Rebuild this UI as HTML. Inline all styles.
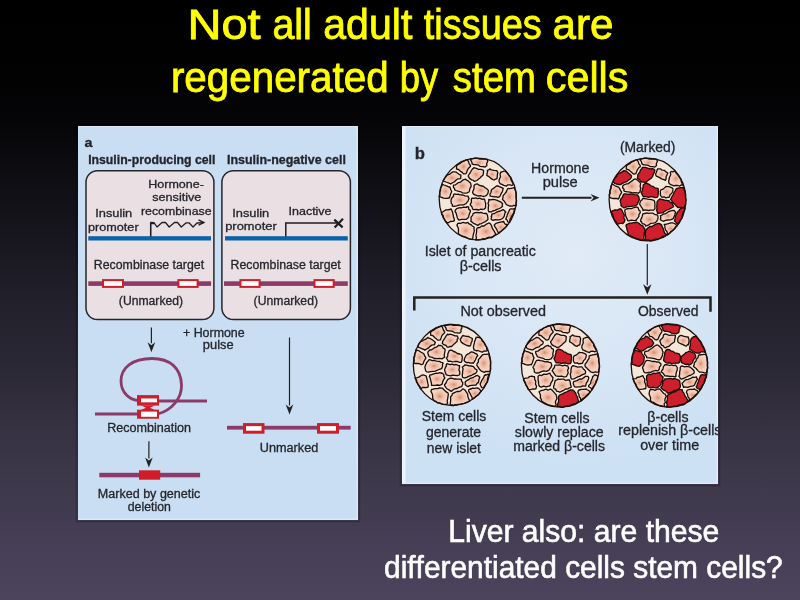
<!DOCTYPE html>
<html><head><meta charset="utf-8"><style>
html,body{margin:0;padding:0;}
body{width:800px;height:600px;overflow:hidden;position:relative;
background:linear-gradient(180deg,#000 0px,#020203 80px,#050507 120px,#0f0e13 180px,#18161e 240px,#22202b 300px,#2a2734 360px,#363242 430px,#403a4e 500px,#494159 570px,#4c445d 600px);
font-family:"Liberation Sans",sans-serif;}
svg{position:absolute;left:0;top:0;will-change:transform;}
svg text{font-family:"Liberation Sans",sans-serif;font-kerning:none;}
.pt text{stroke:#25262d;stroke-width:0.3px;}
</style></head><body>
<svg width="800" height="600" viewBox="0 0 800 600">
<defs>
<radialGradient id="pbg" gradientUnits="userSpaceOnUse" cx="575" cy="255" r="210">
<stop offset="0" stop-color="#e0ebf6"/><stop offset="0.55" stop-color="#d8e6f5"/><stop offset="1" stop-color="#cde1f4"/></radialGradient>
<radialGradient id="cellg" cx="0.5" cy="0.5" r="0.6">
<stop offset="0" stop-color="#d48e6c"/><stop offset="0.25" stop-color="#ebb69f"/><stop offset="0.55" stop-color="#f5cdbc"/><stop offset="1" stop-color="#f8d8ca"/></radialGradient>
</defs>
<clipPath id="cpb"><rect x="402" y="126" width="316" height="358"/></clipPath>
<g font-family="Liberation Sans">
<text x="187.44" y="39.00" font-size="42" textLength="73.20" lengthAdjust="spacingAndGlyphs" stroke="#ffff00" stroke-width="0.8" fill="#ffff00">Not</text>
<text x="272.43" y="39.00" font-size="42" textLength="39.41" lengthAdjust="spacingAndGlyphs" stroke="#ffff00" stroke-width="0.8" fill="#ffff00">all</text>
<text x="323.26" y="39.00" font-size="42" textLength="89.05" lengthAdjust="spacingAndGlyphs" stroke="#ffff00" stroke-width="0.8" fill="#ffff00">adult</text>
<text x="423.83" y="39.00" font-size="42" textLength="117.94" lengthAdjust="spacingAndGlyphs" stroke="#ffff00" stroke-width="0.8" fill="#ffff00">tissues</text>
<text x="552.61" y="39.00" font-size="42" textLength="60.86" lengthAdjust="spacingAndGlyphs" stroke="#ffff00" stroke-width="0.8" fill="#ffff00">are</text>
<text x="170.92" y="92.00" font-size="42" textLength="217.68" lengthAdjust="spacingAndGlyphs" stroke="#ffff00" stroke-width="0.8" fill="#ffff00">regenerated</text>
<text x="399.66" y="92.00" font-size="42" textLength="38.42" lengthAdjust="spacingAndGlyphs" stroke="#ffff00" stroke-width="0.8" fill="#ffff00">by</text>
<text x="452.83" y="92.00" font-size="42" textLength="83.09" lengthAdjust="spacingAndGlyphs" stroke="#ffff00" stroke-width="0.8" fill="#ffff00">stem</text>
<text x="545.74" y="92.00" font-size="42" textLength="82.75" lengthAdjust="spacingAndGlyphs" stroke="#ffff00" stroke-width="0.8" fill="#ffff00">cells</text>
<text x="448.23" y="542.00" font-size="30.5" textLength="271.11" lengthAdjust="spacingAndGlyphs" stroke="#ffffff" stroke-width="0.6" fill="#ffffff">Liver also: are these</text>
<text x="384.05" y="578.00" font-size="30.5" textLength="398.66" lengthAdjust="spacingAndGlyphs" stroke="#ffffff" stroke-width="0.6" fill="#ffffff">differentiated cells stem cells?</text>
</g>
<g class="pt" fill="#25262d" stroke-linecap="butt">
<rect x="76.5" y="124.5" width="283" height="397" fill="none" stroke="#000" stroke-opacity="0.22" stroke-width="1.5"/>
<rect x="400.5" y="124.5" width="319" height="361" fill="none" stroke="#000" stroke-opacity="0.22" stroke-width="1.5"/>
<rect x="78" y="126" width="280" height="394" fill="#c9def2"/>
<rect x="356.5" y="126" width="1.5" height="394" fill="#dce8f6"/>
<rect x="78" y="518.5" width="280" height="1.5" fill="#dce8f6"/>
<rect x="78" y="126" width="280" height="1" fill="#dae8f6"/>
<text x="84.48" y="146.60" font-size="12.5" textLength="7.93" lengthAdjust="spacingAndGlyphs" font-weight="700">a</text>
<text x="88.18" y="163.60" font-size="12" textLength="127.19" lengthAdjust="spacingAndGlyphs" font-weight="700">Insulin-producing cell</text>
<text x="226.97" y="163.70" font-size="12" textLength="118.91" lengthAdjust="spacingAndGlyphs" font-weight="700">Insulin-negative cell</text>
<rect x="86" y="170.7" width="127.9" height="148.9" rx="11.5" ry="11.5" fill="#eadfe3" stroke="#26262a" stroke-width="1.5"/>
<rect x="221.9" y="170.7" width="128.49999999999997" height="148.9" rx="11.5" ry="11.5" fill="#eadfe3" stroke="#26262a" stroke-width="1.5"/>
<text x="148.27" y="188.10" font-size="11" textLength="55.58" lengthAdjust="spacingAndGlyphs">Hormone-</text>
<text x="152.25" y="201.30" font-size="11" textLength="49.11" lengthAdjust="spacingAndGlyphs">sensitive</text>
<text x="140.93" y="214.75" font-size="11" textLength="70.62" lengthAdjust="spacingAndGlyphs">recombinase</text>
<text x="95.22" y="217.20" font-size="11" textLength="37.01" lengthAdjust="spacingAndGlyphs">Insulin</text>
<text x="88.09" y="230.60" font-size="11" textLength="50.52" lengthAdjust="spacingAndGlyphs">promoter</text>
<text x="232.22" y="217.20" font-size="11" textLength="37.01" lengthAdjust="spacingAndGlyphs">Insulin</text>
<text x="225.17" y="230.30" font-size="11" textLength="51.65" lengthAdjust="spacingAndGlyphs">promoter</text>
<text x="288.55" y="215.30" font-size="11" textLength="43.01" lengthAdjust="spacingAndGlyphs">Inactive</text>
<rect x="88.3" y="236.2" width="122.7" height="4.3" fill="#0863aa"/>
<rect x="225" y="236.2" width="122.8" height="4.3" fill="#0863aa"/>
<path d="M150.6,236.5 V223.5 H154" fill="none" stroke="#222" stroke-width="1.3"/>
<path d="M150.7,236.4 V222.4 L154,222.6 L157,227 L162,222.5 L165.5,222.5 L169.2,227 L174.5,222.5 L177.5,222.5 L181.3,227 L186.2,222.8 L189,222.8 L193,227 L197,223 L203.5,222.6" fill="none" stroke="#1e1e22" stroke-width="1.3" stroke-linejoin="round"/>
<path d="M198.5,219.8 L204,222.6 L198.5,225.2" fill="none" stroke="#1e1e22" stroke-width="1.3"/>
<path d="M285.8,236.5 V222.9 H338" fill="none" stroke="#1e1e22" stroke-width="1.5"/>
<path d="M334.3,219.6 L342.6,227.4 M343,218.8 L334.6,227.4" stroke="#1e1e22" stroke-width="2.2"/>
<text x="93.89" y="269.00" font-size="12" textLength="110.20" lengthAdjust="spacingAndGlyphs">Recombinase target</text>
<text x="230.59" y="269.00" font-size="12" textLength="110.20" lengthAdjust="spacingAndGlyphs">Recombinase target</text>
<rect x="88.3" y="281.3" width="122.8" height="4.6" fill="#8c3a6a"/>
<rect x="224" y="281.3" width="123.80000000000001" height="4.6" fill="#8c3a6a"/>
<rect x="103.0" y="280.1" width="20" height="6.800000000000001" fill="#fff" stroke="#cf1d2a" stroke-width="2"/>
<rect x="178.4" y="280.1" width="19.19999999999999" height="6.800000000000001" fill="#fff" stroke="#cf1d2a" stroke-width="2"/>
<rect x="240.4" y="280.1" width="19.200000000000017" height="6.800000000000001" fill="#fff" stroke="#cf1d2a" stroke-width="2"/>
<rect x="314.5" y="280.1" width="19.19999999999999" height="6.800000000000001" fill="#fff" stroke="#cf1d2a" stroke-width="2"/>
<text x="118.84" y="304.70" font-size="12" textLength="64.31" lengthAdjust="spacingAndGlyphs">(Unmarked)</text>
<text x="253.64" y="304.70" font-size="12" textLength="64.36" lengthAdjust="spacingAndGlyphs">(Unmarked)</text>
<text x="182.99" y="336.50" font-size="12" textLength="61.66" lengthAdjust="spacingAndGlyphs">+ Hormone</text>
<text x="202.87" y="349.00" font-size="12" textLength="30.70" lengthAdjust="spacingAndGlyphs">pulse</text>
<line x1="151.4" y1="327.5" x2="151.4" y2="343.3" stroke="#222" stroke-width="1.2"/><path d="M147.6,342.3 L151.4,352.3 L155.20000000000002,342.3 L151.4,345.3Z" fill="#222"/>
<line x1="289.5" y1="337.5" x2="289.5" y2="405.5" stroke="#222" stroke-width="1.2"/><path d="M285.7,404.5 L289.5,414.5 L293.3,404.5 L289.5,407.5Z" fill="#222"/>
<line x1="148.9" y1="441.2" x2="148.9" y2="458.5" stroke="#222" stroke-width="1.2"/><path d="M145.1,457.5 L148.9,467.5 L152.70000000000002,457.5 L148.9,460.5Z" fill="#222"/>
<path d="M159,401 H207" stroke="#8c3a6a" stroke-width="2.8" fill="none"/>
<path d="M95,414 H138" stroke="#8c3a6a" stroke-width="3" fill="none"/>
<path d="M158,414 C172,410 182,398 181.5,385 C181,368 170,358.5 152,358.5 C132,358.5 121,368 121,381 C121,393 130,400 138,400.5" stroke="#8c3a6a" stroke-width="2.8" fill="none"/>
<rect x="137" y="395.1" width="22" height="10.5" fill="#cf1d2a"/>
<rect x="137" y="409.7" width="22" height="9" fill="#cf1d2a"/>
<path d="M141,405.5 L155,405.5 L150,407.7 L155,409.9 L141,409.9 L146,407.7Z" fill="#cf1d2a"/>
<rect x="141" y="398.5" width="16" height="3.8" fill="#fff"/>
<rect x="141" y="411.6" width="16" height="5.2" fill="#fff"/>
<text x="107.22" y="432.40" font-size="12" textLength="83.80" lengthAdjust="spacingAndGlyphs">Recombination</text>
<rect x="99.3" y="472.8" width="100.8" height="4.5" fill="#8c3a6a"/>
<rect x="139" y="470.3" width="21.2" height="9.4" fill="#cf1d2a"/>
<text x="97.87" y="498.00" font-size="12" textLength="102.46" lengthAdjust="spacingAndGlyphs">Marked by genetic</text>
<text x="127.78" y="510.60" font-size="12" textLength="43.12" lengthAdjust="spacingAndGlyphs">deletion</text>
<rect x="227" y="425.8" width="123.7" height="3.8" fill="#8c3a6a"/>
<rect x="244.5" y="424.59999999999997" width="18.5" height="7.6" fill="#fff" stroke="#cf1d2a" stroke-width="3"/>
<rect x="318.5" y="424.59999999999997" width="19" height="7.6" fill="#fff" stroke="#cf1d2a" stroke-width="3"/>
<text x="259.77" y="451.75" font-size="12" textLength="58.55" lengthAdjust="spacingAndGlyphs">Unmarked</text>
</g>
<g class="pt" fill="#25262d" stroke-linecap="butt" clip-path="url(#cpb)">
<rect x="402" y="126" width="316" height="358" fill="url(#pbg)"/>
<rect x="402" y="126" width="3.5" height="358" fill="#eef3fa"/>
<rect x="716.5" y="126" width="1.5" height="358" fill="#e4edf8"/>
<rect x="402" y="482.5" width="316" height="1.5" fill="#e0e9f6"/>
<rect x="402" y="126" width="316" height="1" fill="#e2ecf8"/>
<text x="414.80" y="158.70" font-size="16.5" textLength="10.18" lengthAdjust="spacingAndGlyphs" font-weight="700">b</text>
<text x="619.89" y="152.25" font-size="14" textLength="55.57" lengthAdjust="spacingAndGlyphs">(Marked)</text>
<text x="531.14" y="173.25" font-size="14" textLength="58.24" lengthAdjust="spacingAndGlyphs">Hormone</text>
<text x="542.66" y="187.20" font-size="14" textLength="34.99" lengthAdjust="spacingAndGlyphs">pulse</text>
<line x1="521.8" y1="197.8" x2="591.5" y2="197.8" stroke="#222" stroke-width="1.9"/><path d="M590.5,194.0 L599.5,197.8 L590.5,201.60000000000002 L593.5,197.8Z" fill="#222"/>
<text x="424.69" y="256.00" font-size="14" textLength="111.18" lengthAdjust="spacingAndGlyphs">Islet of pancreatic</text>
<text x="459.81" y="270.70" font-size="14" textLength="41.71" lengthAdjust="spacingAndGlyphs">β-cells</text>
<line x1="647.3" y1="244" x2="647.3" y2="285.3" stroke="#222" stroke-width="1.2"/><path d="M643.0999999999999,284.3 L647.3,294.8 L651.5,284.3 L647.3,287.3Z" fill="#222"/>
<path d="M414.3,310.5 V297.6 H710.5 V311.7" fill="none" stroke="#222" stroke-width="2.5"/>
<text x="460.42" y="316.00" font-size="14" textLength="85.51" lengthAdjust="spacingAndGlyphs">Not observed</text>
<text x="638.04" y="315.75" font-size="14" textLength="60.36" lengthAdjust="spacingAndGlyphs">Observed</text>
<text x="421.66" y="421.20" font-size="13.8" textLength="64.59" lengthAdjust="spacingAndGlyphs">Stem cells</text>
<text x="425.91" y="437.25" font-size="13.8" textLength="55.21" lengthAdjust="spacingAndGlyphs">generate</text>
<text x="426.78" y="453.00" font-size="13.8" textLength="54.13" lengthAdjust="spacingAndGlyphs">new islet</text>
<text x="524.36" y="422.70" font-size="13.8" textLength="65.15" lengthAdjust="spacingAndGlyphs">Stem cells</text>
<text x="514.86" y="437.25" font-size="13.8" textLength="88.77" lengthAdjust="spacingAndGlyphs">slowly replace</text>
<text x="513.27" y="450.75" font-size="13.8" textLength="91.74" lengthAdjust="spacingAndGlyphs">marked β-cells</text>
<text x="647.27" y="421.80" font-size="13.8" textLength="41.25" lengthAdjust="spacingAndGlyphs">β-cells</text>
<text x="618.35" y="435.00" font-size="13.8" textLength="103.16" lengthAdjust="spacingAndGlyphs">replenish β-cells</text>
<text x="640.15" y="450.00" font-size="13.8" textLength="58.99" lengthAdjust="spacingAndGlyphs">over time</text>
<ellipse cx="477.8" cy="199" rx="38.6" ry="40.8" fill="#f3e7da"/>
<path d="M485.1,167.0 L486.7,165.8 L486.9,165.5 L486.6,163.7 L487.7,161.5 L487.3,159.5 L485.2,159.2 L483.4,158.9 L481.8,159.0 L479.2,159.0 L476.5,158.1 L474.8,158.0 L471.9,158.9 L470.3,159.7 L471.2,160.9 L471.9,162.2 L472.1,163.8 L473.9,164.6 L475.8,164.7 L478.6,165.2 L480.2,166.4 L482.7,166.6Z" fill="url(#cellg)" stroke="#1a0c07" stroke-width="1.3" stroke-linejoin="round"/>
<path d="M463.5,173.8 L464.2,173.9 L466.1,173.6 L466.9,171.7 L467.5,169.8 L468.8,167.9 L470.4,166.6 L470.5,165.5 L469.2,163.8 L468.4,161.3 L467.3,159.6 L465.2,160.2 L463.9,161.2 L461.6,162.1 L460.1,163.5 L457.5,164.8 L456.7,165.9 L456.5,167.1 L456.5,169.0 L458.5,169.4 L460.5,171.2 L461.8,172.1Z" fill="url(#cellg)" stroke="#1a0c07" stroke-width="1.3" stroke-linejoin="round"/>
<path d="M449.6,183.3 L450.7,184.0 L452.9,182.5 L454.5,181.8 L455.9,180.3 L457.7,178.9 L460.6,178.6 L460.8,177.0 L460.9,175.1 L459.1,174.3 L457.2,172.9 L456.2,172.1 L454.2,171.8 L453.0,171.9 L452.2,172.2 L449.9,174.1 L447.5,174.9 L446.6,175.8 L445.6,177.2 L444.0,179.1 L443.0,180.8 L446.0,182.0 L447.4,182.5Z" fill="url(#cellg)" stroke="#1a0c07" stroke-width="1.3" stroke-linejoin="round"/>
<path d="M476.9,180.5 L478.6,179.1 L479.7,178.2 L481.6,176.3 L482.9,175.2 L483.4,173.6 L483.5,171.3 L483.8,170.9 L482.6,169.8 L481.0,169.4 L478.7,169.4 L476.2,168.4 L473.9,167.7 L472.9,168.8 L472.7,168.6 L471.1,171.0 L469.9,173.2 L468.3,175.5 L468.2,176.3 L468.8,177.0 L469.5,178.4 L471.7,179.9 L473.0,180.1 L474.5,181.4Z" fill="url(#cellg)" stroke="#1a0c07" stroke-width="1.3" stroke-linejoin="round"/>
<path d="M487.0,173.7 L487.1,174.4 L486.8,175.4 L489.1,176.8 L491.0,178.4 L492.8,179.6 L494.2,180.0 L495.0,179.3 L497.0,178.6 L497.2,176.9 L497.4,174.5 L497.8,172.5 L497.8,172.6 L496.8,170.6 L493.9,170.3 L491.3,169.9 L489.8,168.9 L488.8,169.8 L487.3,170.4 L487.6,171.5Z" fill="url(#cellg)" stroke="#1a0c07" stroke-width="1.3" stroke-linejoin="round"/>
<path d="M499.0,181.4 L499.2,182.0 L500.1,183.6 L502.4,184.6 L503.8,185.3 L506.5,186.2 L507.6,184.9 L510.1,184.9 L511.9,185.5 L513.6,184.3 L512.8,183.1 L511.6,181.0 L510.8,179.5 L510.8,177.4 L509.2,176.0 L507.9,174.0 L506.7,172.6 L505.1,171.2 L504.0,171.1 L501.8,172.0 L500.7,172.2 L500.1,174.3 L500.5,176.7 L499.2,179.5Z" fill="url(#cellg)" stroke="#1a0c07" stroke-width="1.3" stroke-linejoin="round"/>
<path d="M449.9,187.0 L448.8,187.0 L446.5,185.9 L443.9,185.0 L442.5,184.2 L441.8,185.9 L440.4,188.3 L440.6,190.1 L439.7,192.5 L440.0,195.1 L439.0,196.3 L441.7,197.3 L443.5,198.2 L445.6,198.4 L447.3,198.3 L448.0,198.0 L449.1,198.2 L450.1,195.9 L450.6,194.1 L451.2,192.7 L451.7,191.3 L450.8,189.7Z" fill="url(#cellg)" stroke="#1a0c07" stroke-width="1.3" stroke-linejoin="round"/>
<path d="M466.1,179.9 L465.8,179.1 L463.8,179.7 L462.7,180.2 L460.4,182.2 L458.5,182.6 L455.5,184.8 L453.5,185.1 L453.4,186.3 L453.5,187.1 L454.4,188.6 L454.9,189.9 L455.8,190.5 L458.0,191.2 L460.8,191.8 L462.3,192.8 L465.6,193.1 L467.1,192.8 L468.9,192.0 L469.4,191.2 L469.9,188.4 L471.2,186.3 L470.8,184.1 L470.3,182.8 L468.9,181.7 L467.9,180.6Z" fill="url(#cellg)" stroke="#1a0c07" stroke-width="1.3" stroke-linejoin="round"/>
<path d="M472.6,192.9 L473.5,193.6 L473.8,194.4 L477.0,195.7 L478.4,196.0 L480.6,195.7 L483.2,196.5 L484.9,196.1 L486.6,195.4 L486.8,195.0 L488.0,193.1 L488.4,190.8 L487.9,189.9 L487.1,189.1 L484.8,187.4 L483.6,186.4 L482.0,186.0 L479.5,185.4 L477.5,183.9 L476.1,184.2 L475.1,184.5 L474.0,185.5 L474.1,187.1 L474.0,188.7 L473.0,190.9Z" fill="url(#cellg)" stroke="#1a0c07" stroke-width="1.3" stroke-linejoin="round"/>
<path d="M492.3,189.1 L491.4,190.0 L490.9,192.5 L489.9,194.3 L490.2,196.2 L492.0,196.4 L494.3,196.9 L496.2,196.6 L498.0,197.5 L499.6,196.6 L499.8,196.6 L501.0,193.9 L502.1,192.1 L502.6,190.9 L502.9,189.3 L503.3,188.6 L502.3,187.9 L500.6,187.2 L499.4,186.7 L497.6,185.8 L496.5,186.0 L495.2,187.0 L493.3,188.5Z" fill="url(#cellg)" stroke="#1a0c07" stroke-width="1.3" stroke-linejoin="round"/>
<path d="M508.1,188.5 L507.2,189.4 L506.2,192.0 L504.7,193.9 L503.1,195.6 L503.0,197.8 L502.4,199.0 L502.8,199.8 L503.8,200.7 L504.9,202.2 L506.3,204.5 L507.5,205.2 L509.6,206.0 L512.3,206.2 L513.6,205.4 L516.2,205.6 L516.1,202.8 L516.6,200.8 L516.1,198.3 L516.0,196.7 L516.2,194.0 L515.9,191.7 L515.0,189.7 L514.3,187.3 L512.7,188.2 L509.7,188.6Z" fill="url(#cellg)" stroke="#1a0c07" stroke-width="1.3" stroke-linejoin="round"/>
<path d="M452.4,204.7 L452.3,206.0 L454.0,206.3 L456.6,205.8 L458.9,205.1 L461.6,204.8 L463.6,204.8 L466.2,203.5 L467.1,202.2 L468.0,201.1 L469.0,198.4 L468.2,196.9 L468.3,196.3 L467.5,196.1 L465.0,195.9 L462.9,195.0 L460.1,194.8 L458.2,194.1 L456.0,194.3 L454.4,193.9 L453.5,194.8 L453.5,196.3 L451.6,198.2 L451.1,199.7 L451.0,201.0 L451.3,203.4Z" fill="url(#cellg)" stroke="#1a0c07" stroke-width="1.3" stroke-linejoin="round"/>
<path d="M485.0,201.4 L484.9,200.0 L484.1,198.8 L482.2,199.4 L479.8,198.2 L477.7,198.6 L475.7,197.9 L473.8,198.4 L472.0,198.1 L471.3,199.6 L471.5,202.1 L470.3,204.1 L470.4,205.0 L472.0,206.9 L472.5,208.7 L473.2,209.7 L476.4,209.5 L479.0,210.0 L480.8,209.2 L482.9,209.5 L484.2,209.1 L485.5,208.0 L485.6,206.2 L485.7,203.5Z" fill="url(#cellg)" stroke="#1a0c07" stroke-width="1.3" stroke-linejoin="round"/>
<path d="M490.1,199.8 L488.8,199.5 L488.8,201.5 L488.0,203.1 L488.7,205.3 L488.3,207.2 L488.3,209.4 L488.2,210.3 L489.0,212.0 L489.4,211.7 L491.3,211.9 L492.8,211.0 L495.1,210.4 L497.0,209.4 L499.4,208.5 L501.2,207.5 L502.6,206.3 L502.1,205.9 L502.6,203.8 L501.1,202.2 L499.3,201.3 L497.2,200.3 L494.8,199.6 L492.6,199.5Z" fill="url(#cellg)" stroke="#1a0c07" stroke-width="1.3" stroke-linejoin="round"/>
<path d="M451.6,209.9 L451.0,208.9 L449.9,209.5 L447.3,209.9 L445.5,210.0 L443.0,211.8 L441.4,212.5 L441.7,214.0 L443.4,216.2 L443.1,217.6 L444.4,219.5 L445.0,220.6 L446.9,222.5 L448.4,222.8 L450.2,221.5 L452.3,221.4 L452.8,221.4 L454.4,220.7 L454.2,218.9 L453.6,217.3 L453.2,215.2 L452.6,212.3Z" fill="url(#cellg)" stroke="#1a0c07" stroke-width="1.3" stroke-linejoin="round"/>
<path d="M466.3,219.3 L466.6,219.1 L468.1,217.8 L468.7,216.4 L469.5,213.6 L470.3,211.8 L470.4,210.4 L468.7,209.3 L468.6,207.0 L466.9,206.6 L466.6,207.4 L463.4,207.2 L461.3,207.8 L459.8,207.7 L456.7,208.6 L455.9,209.6 L455.4,209.6 L455.1,211.7 L456.1,213.0 L456.8,215.7 L457.3,217.7 L458.0,219.0 L459.0,220.2 L461.5,219.4 L463.4,219.3Z" fill="url(#cellg)" stroke="#1a0c07" stroke-width="1.3" stroke-linejoin="round"/>
<path d="M486.5,220.5 L487.4,220.1 L488.0,219.4 L487.7,216.8 L487.6,215.8 L487.1,214.6 L486.6,213.5 L485.5,213.5 L482.8,213.2 L480.8,212.4 L479.0,212.9 L477.5,212.3 L475.3,212.6 L473.5,213.4 L473.2,213.3 L472.7,215.1 L470.9,217.3 L471.1,218.8 L471.2,220.3 L470.7,221.2 L472.5,222.4 L474.2,223.7 L475.9,224.3 L476.7,224.9 L477.8,225.4 L480.0,223.8 L481.2,223.8 L483.8,222.3 L485.7,221.5Z" fill="url(#cellg)" stroke="#1a0c07" stroke-width="1.3" stroke-linejoin="round"/>
<path d="M491.1,219.1 L491.9,219.8 L493.2,220.4 L495.1,219.6 L498.1,219.8 L500.2,219.7 L502.0,218.7 L503.0,217.9 L504.3,216.2 L504.5,214.8 L505.1,212.4 L505.9,212.1 L505.1,211.2 L503.7,209.9 L502.9,209.6 L500.4,211.0 L498.6,211.4 L496.6,212.2 L494.8,213.3 L491.8,214.2 L491.9,215.0 L491.1,216.7 L491.7,216.9Z" fill="url(#cellg)" stroke="#1a0c07" stroke-width="1.3" stroke-linejoin="round"/>
<path d="M511.6,208.9 L511.0,208.9 L509.8,209.3 L508.5,212.2 L507.6,213.9 L507.0,215.9 L505.7,219.2 L506.2,219.1 L507.0,219.9 L507.7,221.9 L509.7,222.5 L509.9,219.9 L511.0,217.6 L512.2,215.3 L513.7,212.9 L513.9,211.5 L514.9,208.4 L512.9,209.1Z" fill="url(#cellg)" stroke="#1a0c07" stroke-width="1.3" stroke-linejoin="round"/>
<path d="M459.2,223.1 L457.9,223.3 L456.9,225.4 L458.3,228.0 L458.5,230.0 L458.3,232.8 L458.9,234.2 L461.9,236.0 L464.2,236.6 L465.7,237.1 L468.7,238.8 L470.2,239.2 L472.6,239.0 L473.0,236.6 L473.2,234.7 L473.8,232.9 L474.3,231.3 L474.0,228.5 L474.2,227.3 L471.7,225.5 L471.3,224.9 L468.7,223.6 L467.8,222.3 L466.1,223.1 L462.9,222.3 L461.1,223.3Z" fill="url(#cellg)" stroke="#1a0c07" stroke-width="1.3" stroke-linejoin="round"/>
<path d="M491.1,224.8 L490.0,223.3 L488.8,223.0 L486.5,224.1 L484.1,226.0 L482.1,225.8 L479.8,227.5 L477.2,227.9 L476.5,229.5 L476.7,231.5 L476.3,233.7 L475.9,236.0 L476.5,237.5 L475.7,240.0 L477.2,239.9 L478.9,239.8 L480.7,239.6 L483.1,238.7 L484.6,239.0 L485.8,238.5 L487.0,237.9 L489.3,237.2 L490.9,237.8 L493.0,236.9 L494.4,235.3 L496.3,234.5 L495.2,233.3 L494.0,230.8 L492.5,228.7 L491.7,226.2Z" fill="url(#cellg)" stroke="#1a0c07" stroke-width="1.3" stroke-linejoin="round"/>
<path d="M496.0,223.4 L495.6,223.6 L494.2,225.2 L495.2,227.1 L496.7,229.3 L497.4,231.0 L498.5,233.1 L499.8,232.0 L502.0,230.5 L503.4,229.3 L505.0,227.9 L506.0,226.9 L507.6,224.4 L505.4,224.3 L503.7,222.2 L503.8,221.5 L500.6,222.1 L498.2,222.7Z" fill="url(#cellg)" stroke="#1a0c07" stroke-width="1.3" stroke-linejoin="round"/>
<ellipse cx="477.8" cy="199" rx="38.6" ry="40.8" fill="none" stroke="#1e0f0a" stroke-width="1.3"/>
<ellipse cx="647.5" cy="199.5" rx="38.4" ry="41.3" fill="#f3e7da"/>
<path d="M654.8,167.1 L656.3,165.8 L656.5,165.6 L656.3,163.7 L657.4,161.5 L656.9,159.5 L654.8,159.2 L653.1,158.9 L651.5,159.0 L648.9,159.0 L646.2,158.1 L644.5,158.0 L641.6,158.9 L639.9,159.7 L641.0,160.9 L641.6,162.3 L641.9,163.9 L643.7,164.8 L645.5,164.8 L648.3,165.3 L649.9,166.5 L652.4,166.7Z" fill="url(#cellg)" stroke="#1a0c07" stroke-width="1.3" stroke-linejoin="round"/>
<path d="M633.2,173.9 L634.0,174.0 L635.8,173.7 L636.6,171.8 L637.3,169.9 L638.6,168.0 L640.2,166.7 L640.3,165.7 L638.9,163.9 L638.1,161.4 L636.9,159.7 L634.9,160.3 L633.7,161.2 L631.4,162.1 L629.9,163.6 L627.3,164.9 L626.5,166.0 L626.3,167.3 L626.3,169.2 L628.4,169.6 L630.3,171.3 L631.5,172.2Z" fill="url(#cellg)" stroke="#1a0c07" stroke-width="1.3" stroke-linejoin="round"/>
<path d="M630.3,179.0 L631.2,177.7 L631.6,175.9 L630.8,175.1 L628.9,173.4 L627.2,171.9 L626.8,171.2 L624.0,170.6 L622.4,171.6 L619.9,173.2 L617.4,174.1 L616.7,176.5 L614.7,178.4 L613.4,180.4 L613.3,181.8 L614.8,183.5 L616.4,184.0 L619.3,184.7 L620.8,184.5 L622.1,183.6 L624.1,182.5 L627.0,181.6 L628.3,180.2Z" fill="#d01f2c" stroke="#1a0c07" stroke-width="1.3" stroke-linejoin="round"/>
<path d="M637.8,174.9 L637.6,176.7 L637.6,178.6 L639.3,179.4 L640.4,180.9 L641.8,182.1 L643.3,182.1 L646.2,182.3 L647.6,180.7 L649.9,179.1 L651.5,178.0 L652.9,175.8 L653.5,173.6 L654.2,172.9 L654.9,170.2 L653.7,169.1 L652.4,168.7 L649.7,168.8 L647.6,168.1 L645.4,167.4 L642.4,167.4 L641.6,169.0 L640.6,169.7 L639.8,172.1 L638.8,173.4Z" fill="#d01f2c" stroke="#1a0c07" stroke-width="1.3" stroke-linejoin="round"/>
<path d="M660.3,168.8 L657.7,168.9 L657.1,170.1 L656.4,172.3 L655.6,174.1 L656.0,175.7 L656.6,176.1 L659.7,177.6 L661.5,178.9 L663.2,179.5 L664.0,179.5 L665.4,180.4 L666.1,178.8 L666.0,178.2 L666.3,176.2 L667.7,173.4 L667.6,172.7 L665.6,171.6 L664.4,170.3 L661.9,170.1Z" fill="url(#cellg)" stroke="#1a0c07" stroke-width="1.3" stroke-linejoin="round"/>
<path d="M668.6,181.1 L668.9,183.0 L669.9,184.1 L671.4,184.8 L674.1,185.8 L675.3,185.5 L677.8,185.5 L679.6,186.1 L681.2,185.0 L683.2,185.2 L681.9,183.1 L681.2,181.6 L681.2,179.5 L679.8,177.8 L678.5,175.8 L677.6,174.4 L676.0,173.1 L675.2,170.9 L673.0,171.8 L671.5,171.4 L670.3,172.3 L670.7,174.7 L669.4,177.6 L669.2,179.0Z" fill="url(#cellg)" stroke="#1a0c07" stroke-width="1.3" stroke-linejoin="round"/>
<path d="M619.4,188.1 L618.5,187.1 L615.9,186.2 L614.6,185.5 L612.3,184.0 L610.9,186.4 L611.1,188.2 L609.9,190.9 L610.2,193.4 L609.2,194.7 L609.7,197.3 L611.5,198.2 L613.6,198.5 L615.3,198.3 L617.0,198.5 L618.2,199.1 L618.9,198.2 L619.5,196.4 L620.0,195.1 L621.6,192.7 L621.5,192.1 L620.4,190.2Z" fill="url(#cellg)" stroke="#1a0c07" stroke-width="1.3" stroke-linejoin="round"/>
<path d="M637.9,193.2 L638.3,193.3 L640.1,191.6 L640.2,190.5 L640.8,187.7 L640.1,186.9 L640.5,184.0 L640.4,182.9 L639.1,181.5 L637.9,180.5 L636.2,179.2 L634.8,179.0 L633.6,179.6 L632.1,180.9 L629.4,182.7 L628.4,183.7 L625.7,184.2 L623.7,185.0 L622.6,186.4 L622.6,187.7 L624.1,189.3 L623.8,190.7 L624.8,191.4 L627.3,191.8 L630.2,192.2 L632.3,192.9 L635.4,192.6Z" fill="url(#cellg)" stroke="#1a0c07" stroke-width="1.3" stroke-linejoin="round"/>
<path d="M641.1,192.5 L642.6,195.4 L643.3,196.8 L645.6,196.5 L648.3,197.3 L650.0,196.9 L653.0,196.9 L654.9,197.6 L657.1,197.4 L658.0,196.2 L658.1,194.5 L658.4,192.5 L658.2,190.1 L658.2,188.7 L657.4,188.4 L654.9,187.8 L652.8,186.3 L650.9,185.9 L649.7,184.7 L647.5,183.7 L646.0,183.2 L644.8,183.6 L643.1,185.2 L643.2,186.8 L642.6,188.6 L642.0,191.3Z" fill="#d01f2c" stroke="#1a0c07" stroke-width="1.3" stroke-linejoin="round"/>
<path d="M661.0,189.8 L660.2,191.2 L660.4,192.5 L660.3,194.5 L660.7,195.7 L661.8,197.1 L664.1,196.8 L665.5,197.8 L667.5,197.4 L668.6,197.4 L669.0,197.4 L670.1,194.8 L671.9,193.1 L672.7,191.2 L672.9,189.9 L673.0,188.9 L672.0,187.8 L670.3,187.2 L669.0,186.7 L667.0,186.6 L666.1,186.3 L665.0,187.4 L663.5,188.9Z" fill="url(#cellg)" stroke="#1a0c07" stroke-width="1.3" stroke-linejoin="round"/>
<path d="M671.2,198.3 L670.5,199.4 L672.0,201.1 L672.9,202.6 L674.4,203.9 L675.4,204.8 L676.5,206.3 L678.0,207.6 L679.2,207.3 L681.1,207.4 L683.6,207.7 L684.8,206.8 L685.7,204.6 L685.7,201.7 L686.0,200.2 L685.5,198.2 L685.4,197.2 L685.6,194.5 L685.3,192.1 L684.4,190.5 L683.8,188.5 L684.1,187.4 L681.3,187.7 L680.2,187.7 L677.2,188.3 L676.1,188.9 L675.2,190.8 L674.0,192.4 L673.3,194.5 L671.9,196.7Z" fill="#d01f2c" stroke="#1a0c07" stroke-width="1.3" stroke-linejoin="round"/>
<path d="M620.9,205.5 L622.2,206.7 L624.1,207.9 L626.5,206.8 L627.8,206.6 L630.6,206.4 L632.9,206.2 L634.6,205.9 L636.8,205.0 L637.6,203.6 L638.7,201.2 L639.3,199.7 L638.8,196.7 L637.9,195.7 L637.5,194.9 L634.4,194.7 L632.6,194.2 L630.4,194.0 L627.9,194.4 L625.6,193.9 L624.1,193.9 L623.3,194.8 L622.4,197.5 L621.2,198.3 L620.2,200.8 L620.3,201.7 L621.1,204.3Z" fill="#d01f2c" stroke="#1a0c07" stroke-width="1.3" stroke-linejoin="round"/>
<path d="M654.6,201.5 L654.1,200.9 L653.9,200.3 L651.5,199.7 L649.5,199.3 L647.7,199.1 L644.9,198.7 L642.5,198.7 L642.5,198.7 L642.0,200.0 L640.8,200.8 L640.0,202.5 L639.7,204.4 L640.4,205.3 L641.7,207.7 L642.9,209.2 L642.9,210.5 L645.6,209.8 L648.6,210.5 L650.3,210.1 L653.5,210.2 L654.3,209.4 L655.0,208.5 L654.8,206.0 L655.0,204.6Z" fill="url(#cellg)" stroke="#1a0c07" stroke-width="1.3" stroke-linejoin="round"/>
<path d="M660.0,198.8 L658.6,199.9 L657.0,201.8 L657.0,204.3 L656.7,206.3 L657.0,208.5 L656.5,210.7 L657.3,211.7 L657.5,213.5 L659.7,213.1 L661.2,212.9 L663.0,212.7 L665.1,211.1 L667.0,210.0 L669.0,209.3 L671.0,208.2 L672.7,207.2 L673.6,206.6 L672.6,204.4 L671.7,202.6 L670.1,202.3 L669.4,201.0 L666.7,200.3 L665.4,200.3 L662.1,199.5Z" fill="#d01f2c" stroke="#1a0c07" stroke-width="1.3" stroke-linejoin="round"/>
<path d="M622.5,211.2 L620.9,208.9 L619.7,208.8 L617.2,210.1 L615.0,209.8 L613.1,210.6 L610.7,211.9 L612.5,214.0 L613.0,215.9 L613.7,218.5 L614.9,220.6 L616.0,221.8 L617.1,224.1 L618.5,224.0 L621.1,223.2 L622.6,223.7 L623.5,222.7 L624.4,221.8 L625.0,219.9 L623.8,218.0 L624.3,214.9 L622.9,212.7Z" fill="#d01f2c" stroke="#1a0c07" stroke-width="1.3" stroke-linejoin="round"/>
<path d="M636.3,220.6 L636.1,219.6 L637.0,219.0 L638.9,216.3 L638.9,214.6 L640.3,212.7 L639.9,210.6 L638.8,210.2 L638.2,207.8 L637.4,207.4 L636.5,206.9 L634.2,207.5 L631.4,208.6 L629.2,208.4 L626.4,209.0 L625.2,209.5 L624.7,210.8 L624.9,211.8 L625.2,213.0 L625.7,215.7 L626.1,217.1 L627.1,218.9 L627.9,220.6 L628.7,221.0 L631.0,220.1 L633.5,220.4Z" fill="url(#cellg)" stroke="#1a0c07" stroke-width="1.3" stroke-linejoin="round"/>
<path d="M657.9,215.7 L657.0,214.9 L654.5,214.3 L653.0,213.2 L651.1,213.1 L648.0,213.3 L646.8,212.9 L644.6,213.5 L642.8,213.8 L642.6,214.6 L642.2,216.5 L641.8,217.6 L640.8,219.6 L640.7,221.5 L641.5,221.6 L642.2,223.6 L644.2,224.1 L645.6,225.3 L645.7,226.1 L646.9,225.7 L648.9,224.8 L650.6,223.4 L653.4,223.2 L655.4,222.6 L656.9,221.0 L657.6,219.7 L658.0,217.9Z" fill="url(#cellg)" stroke="#1a0c07" stroke-width="1.3" stroke-linejoin="round"/>
<path d="M661.5,215.3 L660.5,215.6 L660.8,217.4 L660.5,218.6 L660.4,219.6 L662.2,220.7 L663.2,221.3 L665.5,220.4 L667.6,220.0 L669.9,219.9 L671.1,219.6 L673.3,218.6 L673.7,217.6 L674.9,214.7 L675.2,213.5 L675.4,212.1 L674.1,210.3 L672.0,210.6 L669.9,211.1 L668.1,211.9 L665.5,213.8 L663.8,213.9Z" fill="url(#cellg)" stroke="#1a0c07" stroke-width="1.3" stroke-linejoin="round"/>
<path d="M681.4,207.9 L679.5,209.6 L679.4,210.2 L677.4,212.1 L676.4,214.3 L675.4,216.5 L675.1,218.7 L674.5,220.9 L675.3,221.5 L676.4,223.1 L678.4,223.9 L679.5,221.4 L680.2,220.1 L681.9,218.6 L682.4,216.5 L682.3,215.0 L683.1,212.2 L684.4,210.9 L685.0,208.3 L682.5,207.9Z" fill="#d01f2c" stroke="#1a0c07" stroke-width="1.3" stroke-linejoin="round"/>
<path d="M629.0,223.5 L626.3,224.6 L625.9,225.8 L626.6,227.6 L627.1,230.1 L627.9,232.6 L628.6,235.3 L629.8,235.6 L632.3,236.9 L633.0,237.0 L635.8,238.4 L636.8,239.0 L639.5,239.5 L641.9,240.5 L642.9,239.8 L643.5,238.5 L644.1,236.2 L644.3,233.5 L644.9,231.1 L645.0,229.2 L644.1,228.0 L642.6,225.6 L640.8,225.1 L638.8,223.3 L637.1,222.3 L635.3,222.5 L632.9,222.8 L630.5,223.2Z" fill="#d01f2c" stroke="#1a0c07" stroke-width="1.3" stroke-linejoin="round"/>
<path d="M648.1,227.8 L646.7,229.2 L645.8,230.2 L645.5,232.2 L645.2,234.1 L645.6,235.6 L645.2,238.3 L644.4,240.2 L645.8,240.1 L648.3,239.9 L650.2,241.0 L652.4,240.6 L654.1,239.5 L656.1,239.2 L657.8,239.5 L659.3,238.5 L660.6,237.9 L662.4,236.5 L664.0,236.5 L666.7,234.8 L664.6,232.9 L663.8,230.8 L663.4,229.1 L662.3,226.8 L661.6,224.9 L659.6,223.6 L658.3,223.3 L656.0,224.2 L654.2,225.1 L651.7,226.6 L649.8,226.5Z" fill="#d01f2c" stroke="#1a0c07" stroke-width="1.3" stroke-linejoin="round"/>
<path d="M665.6,224.4 L664.2,224.4 L664.9,225.7 L664.9,227.9 L665.7,230.2 L667.2,232.0 L667.5,234.6 L669.9,233.0 L670.7,231.7 L672.8,230.3 L674.5,228.7 L675.5,226.8 L677.0,226.0 L675.6,224.2 L674.4,223.5 L672.7,222.8 L670.9,222.8 L668.4,223.7Z" fill="url(#cellg)" stroke="#1a0c07" stroke-width="1.3" stroke-linejoin="round"/>
<ellipse cx="647.5" cy="199.5" rx="38.4" ry="41.3" fill="none" stroke="#1e0f0a" stroke-width="1.3"/>
<ellipse cx="452" cy="365" rx="38.7" ry="40.5" fill="#f3e7da"/>
<path d="M459.4,333.2 L460.9,332.0 L461.1,331.8 L460.9,329.9 L462.0,327.7 L461.5,325.7 L459.4,325.5 L457.7,325.2 L456.0,325.3 L453.4,325.3 L450.7,324.4 L449.0,324.3 L446.1,325.2 L444.5,326.0 L445.4,327.1 L446.1,328.4 L446.3,330.0 L448.1,330.9 L449.9,330.9 L452.8,331.4 L454.4,332.6 L456.9,332.9Z" fill="url(#cellg)" stroke="#1a0c07" stroke-width="1.3" stroke-linejoin="round"/>
<path d="M437.6,340.1 L438.4,340.2 L440.3,339.9 L441.1,337.9 L441.7,336.1 L443.0,334.2 L444.6,332.8 L444.7,331.8 L443.4,330.0 L442.6,327.6 L441.5,325.9 L439.4,326.5 L438.1,327.4 L435.7,328.3 L434.2,329.8 L431.6,331.1 L430.8,332.2 L430.6,333.3 L430.6,335.2 L432.7,335.6 L434.7,337.4 L435.9,338.4Z" fill="url(#cellg)" stroke="#1a0c07" stroke-width="1.3" stroke-linejoin="round"/>
<path d="M423.8,349.4 L424.9,350.1 L427.1,348.7 L428.7,347.9 L430.0,346.4 L431.8,345.1 L434.6,344.7 L434.7,343.7 L435.4,342.7 L434.5,341.5 L432.8,340.2 L431.8,339.5 L429.6,338.3 L428.2,337.8 L428.1,337.3 L425.8,339.2 L423.5,340.1 L422.5,341.0 L420.6,341.7 L419.0,343.6 L418.1,345.2 L418.1,347.1 L419.5,347.7 L422.3,348.8Z" fill="url(#cellg)" stroke="#1a0c07" stroke-width="1.3" stroke-linejoin="round"/>
<path d="M451.3,346.7 L452.3,345.7 L454.2,343.9 L455.5,342.8 L457.1,341.5 L457.2,339.2 L458.2,338.2 L457.7,337.0 L457.3,336.0 L455.1,335.9 L452.6,334.9 L450.2,334.2 L448.1,334.9 L447.8,334.1 L446.5,335.2 L445.3,337.4 L443.8,339.7 L442.7,341.3 L442.6,342.0 L442.3,343.5 L444.5,345.0 L445.8,345.2 L447.3,347.1 L448.7,347.2 L450.0,346.4Z" fill="url(#cellg)" stroke="#1a0c07" stroke-width="1.3" stroke-linejoin="round"/>
<path d="M460.2,339.3 L460.6,340.8 L461.2,342.1 L463.0,343.4 L465.2,344.7 L467.0,345.5 L469.3,346.0 L470.2,345.9 L470.8,344.4 L471.2,342.4 L471.9,341.6 L472.4,338.7 L471.4,338.0 L470.2,337.5 L468.7,336.5 L466.4,336.3 L463.2,335.6 L463.1,335.3 L462.1,336.4 L461.5,337.5Z" fill="url(#cellg)" stroke="#1a0c07" stroke-width="1.3" stroke-linejoin="round"/>
<path d="M473.4,347.5 L473.8,348.9 L474.0,349.8 L476.7,350.8 L477.9,350.5 L480.6,351.6 L482.4,352.1 L484.1,351.0 L486.0,351.2 L487.5,350.6 L486.7,349.2 L486.7,347.1 L485.4,345.5 L484.4,343.4 L483.4,342.0 L482.0,340.8 L481.3,338.6 L479.3,337.5 L477.7,337.1 L476.1,337.4 L475.8,338.6 L474.6,341.4 L474.4,342.7 L473.7,345.7Z" fill="url(#cellg)" stroke="#1a0c07" stroke-width="1.3" stroke-linejoin="round"/>
<path d="M423.8,353.8 L422.6,353.0 L421.1,352.2 L418.8,350.7 L415.8,349.9 L416.0,351.5 L414.8,353.9 L414.8,356.3 L413.7,357.7 L414.2,360.6 L413.8,363.3 L416.0,363.5 L417.7,363.4 L419.4,363.6 L421.4,364.8 L423.1,363.9 L423.7,362.0 L424.3,360.6 L425.9,358.2 L425.8,357.7 L424.7,355.9Z" fill="url(#cellg)" stroke="#1a0c07" stroke-width="1.3" stroke-linejoin="round"/>
<path d="M440.9,345.5 L439.0,345.6 L438.9,345.1 L436.6,347.1 L434.8,347.5 L431.7,349.8 L429.7,350.0 L428.2,351.6 L427.8,352.1 L427.9,353.2 L428.3,354.5 L428.6,355.8 L429.8,356.9 L432.6,357.4 L434.1,358.5 L437.4,358.7 L439.0,358.5 L441.3,358.6 L442.1,358.9 L442.9,358.1 L444.6,357.2 L444.2,355.1 L444.7,352.5 L445.1,350.1 L444.9,348.9 L443.2,348.2 L442.3,346.3Z" fill="url(#cellg)" stroke="#1a0c07" stroke-width="1.3" stroke-linejoin="round"/>
<path d="M446.5,358.1 L447.9,360.5 L448.1,361.4 L450.3,361.2 L452.9,362.0 L454.6,361.5 L457.6,361.5 L459.4,362.3 L461.1,362.3 L461.8,361.3 L462.1,359.2 L462.4,356.9 L461.6,355.2 L461.4,354.5 L459.8,354.0 L457.3,353.5 L455.3,352.0 L453.5,351.5 L452.3,350.4 L450.7,350.1 L449.6,350.3 L448.9,351.2 L447.8,353.9 L447.8,355.9Z" fill="url(#cellg)" stroke="#1a0c07" stroke-width="1.3" stroke-linejoin="round"/>
<path d="M466.3,355.0 L465.4,356.8 L464.5,358.5 L464.1,360.6 L465.0,361.6 L466.6,362.6 L468.5,362.4 L470.3,363.2 L472.7,362.9 L473.4,363.3 L474.2,361.9 L475.3,360.1 L475.8,359.0 L476.9,356.5 L477.8,355.7 L477.3,354.8 L476.4,353.8 L475.2,353.3 L473.4,352.4 L471.7,351.8 L470.9,352.1 L469.1,353.6 L467.6,354.1Z" fill="url(#cellg)" stroke="#1a0c07" stroke-width="1.3" stroke-linejoin="round"/>
<path d="M482.7,354.6 L481.5,356.0 L479.9,358.0 L478.4,359.6 L478.4,361.8 L477.0,363.9 L476.9,364.7 L476.8,365.3 L478.1,367.1 L479.7,369.6 L481.0,370.7 L481.9,371.4 L484.5,372.3 L485.8,371.4 L488.4,371.6 L490.2,371.0 L490.7,369.0 L490.4,366.6 L490.3,365.1 L490.8,362.3 L490.5,360.0 L489.7,357.8 L489.0,355.5 L489.2,353.9 L486.2,354.3 L484.9,354.3Z" fill="url(#cellg)" stroke="#1a0c07" stroke-width="1.3" stroke-linejoin="round"/>
<path d="M425.7,370.9 L426.7,371.9 L428.3,372.2 L430.5,371.6 L433.2,371.3 L435.3,371.2 L437.8,370.0 L440.1,369.2 L441.6,368.7 L442.6,366.2 L442.5,364.4 L443.1,363.2 L442.7,362.6 L441.3,362.3 L439.3,361.4 L436.5,361.2 L434.5,360.5 L432.3,360.7 L429.7,359.7 L428.5,360.1 L428.5,360.6 L426.7,362.5 L426.1,364.0 L425.2,365.9 L424.9,367.7 L425.3,369.2Z" fill="url(#cellg)" stroke="#1a0c07" stroke-width="1.3" stroke-linejoin="round"/>
<path d="M459.5,367.2 L459.6,365.7 L458.5,365.7 L456.1,364.5 L453.9,364.9 L452.0,364.1 L450.1,364.7 L447.0,363.7 L446.1,364.7 L446.5,365.8 L445.3,367.7 L444.6,369.9 L444.9,371.0 L445.4,372.7 L446.3,374.8 L448.2,375.3 L450.8,375.8 L452.6,375.1 L454.7,375.3 L457.4,375.7 L459.0,375.0 L459.7,374.4 L459.8,371.8 L458.9,369.9Z" fill="url(#cellg)" stroke="#1a0c07" stroke-width="1.3" stroke-linejoin="round"/>
<path d="M464.7,365.0 L463.9,366.0 L462.3,367.0 L463.1,369.1 L462.6,371.1 L462.6,373.2 L462.2,375.2 L462.5,377.2 L462.7,377.3 L464.5,378.0 L465.0,377.9 L467.2,377.2 L469.1,376.2 L471.6,375.3 L473.3,374.4 L475.8,373.1 L476.0,372.9 L477.1,371.0 L476.8,369.8 L475.1,368.9 L473.6,366.6 L471.3,366.0 L469.0,365.9 L466.7,365.2Z" fill="url(#cellg)" stroke="#1a0c07" stroke-width="1.3" stroke-linejoin="round"/>
<path d="M426.1,376.0 L425.5,375.7 L423.5,375.0 L421.7,375.2 L419.2,376.9 L417.6,377.6 L415.0,378.1 L416.7,380.3 L416.4,381.6 L417.6,383.7 L418.2,384.8 L420.0,386.7 L420.5,388.9 L422.4,387.5 L424.4,387.4 L426.0,387.7 L428.0,387.2 L428.2,386.2 L428.3,385.3 L427.8,383.2 L427.2,380.3 L426.8,378.5Z" fill="url(#cellg)" stroke="#1a0c07" stroke-width="1.3" stroke-linejoin="round"/>
<path d="M440.0,385.3 L441.6,384.4 L442.0,384.3 L442.7,381.6 L443.6,379.8 L444.9,377.7 L443.9,376.6 L443.8,374.4 L442.0,373.0 L441.8,373.4 L439.8,372.6 L437.7,373.3 L436.3,373.2 L433.1,374.2 L431.2,374.9 L430.0,374.8 L429.3,376.7 L429.7,376.6 L430.4,379.2 L430.9,381.2 L431.5,383.7 L431.6,385.4 L433.2,385.4 L435.2,385.4 L437.5,385.0Z" fill="url(#cellg)" stroke="#1a0c07" stroke-width="1.3" stroke-linejoin="round"/>
<path d="M444.5,384.7 L444.7,385.9 L445.2,386.4 L446.6,388.5 L447.9,389.2 L449.8,390.4 L451.2,391.4 L452.6,390.3 L454.7,388.8 L457.0,388.5 L459.7,387.1 L461.6,386.6 L461.7,386.5 L462.7,384.2 L462.7,382.4 L461.4,380.8 L461.5,379.5 L460.4,379.2 L457.3,379.1 L455.6,379.0 L453.8,379.0 L451.9,378.2 L449.5,378.4 L448.4,379.2 L447.9,379.2 L446.4,381.8 L446.2,382.8Z" fill="url(#cellg)" stroke="#1a0c07" stroke-width="1.3" stroke-linejoin="round"/>
<path d="M466.9,380.4 L465.3,381.7 L465.2,382.4 L465.3,383.7 L465.2,384.5 L467.0,386.2 L468.2,386.6 L469.7,385.6 L471.8,385.4 L474.4,385.2 L475.9,385.2 L477.1,383.4 L478.5,382.4 L478.8,380.5 L479.2,378.5 L479.9,377.2 L478.7,376.2 L477.3,375.4 L475.3,376.2 L473.4,377.3 L470.4,378.3 L469.1,379.3Z" fill="url(#cellg)" stroke="#1a0c07" stroke-width="1.3" stroke-linejoin="round"/>
<path d="M485.9,375.3 L485.3,374.6 L484.2,376.0 L483.5,377.8 L482.2,379.6 L480.9,382.4 L480.1,384.1 L480.8,385.8 L481.7,387.7 L483.4,387.8 L484.9,385.4 L485.6,384.4 L487.5,381.8 L487.4,379.1 L488.1,376.6 L488.8,374.1 L487.8,374.2Z" fill="url(#cellg)" stroke="#1a0c07" stroke-width="1.3" stroke-linejoin="round"/>
<path d="M432.7,389.4 L431.6,389.5 L430.9,391.5 L432.1,393.5 L432.6,395.3 L432.7,398.2 L434.1,400.8 L436.0,401.4 L437.4,402.8 L439.7,402.9 L442.7,404.3 L445.0,404.4 L446.6,404.4 L447.6,403.4 L447.2,401.2 L447.7,398.5 L448.1,396.1 L448.3,394.2 L448.0,393.0 L446.3,391.9 L443.7,389.5 L442.5,388.2 L439.3,387.8 L438.1,388.6 L434.8,388.7Z" fill="url(#cellg)" stroke="#1a0c07" stroke-width="1.3" stroke-linejoin="round"/>
<path d="M452.4,393.6 L451.9,395.6 L450.6,396.7 L450.7,399.6 L450.6,401.5 L450.3,402.9 L450.3,404.7 L451.9,404.8 L453.4,405.8 L455.2,404.6 L456.7,405.1 L457.9,404.4 L459.5,404.4 L461.6,403.9 L463.1,403.6 L464.6,403.4 L467.2,402.2 L468.2,401.8 L469.7,401.0 L468.7,398.9 L467.9,396.6 L467.6,393.9 L466.5,392.4 L465.1,390.2 L463.6,389.1 L462.8,388.9 L460.8,390.8 L459.1,391.5 L456.9,391.5 L455.0,392.4Z" fill="url(#cellg)" stroke="#1a0c07" stroke-width="1.3" stroke-linejoin="round"/>
<path d="M478.8,388.6 L477.3,387.9 L474.6,388.3 L472.6,388.1 L470.3,389.3 L470.5,388.8 L468.7,389.8 L468.7,391.4 L470.1,393.5 L470.8,395.1 L471.9,397.0 L472.4,399.0 L474.6,397.5 L476.0,396.3 L477.9,395.2 L478.8,394.2 L480.4,391.8 L481.2,391.3 L479.4,389.2Z" fill="url(#cellg)" stroke="#1a0c07" stroke-width="1.3" stroke-linejoin="round"/>
<ellipse cx="452" cy="365" rx="38.7" ry="40.5" fill="none" stroke="#1e0f0a" stroke-width="1.3"/>
<ellipse cx="560.4" cy="365.6" rx="39" ry="41.6" fill="#f3e7da"/>
<path d="M567.8,333.0 L569.2,331.9 L569.6,331.5 L569.4,329.6 L570.4,327.3 L570.0,325.3 L567.9,325.0 L566.1,324.7 L564.5,324.8 L561.8,324.8 L559.1,323.9 L557.4,323.8 L554.4,324.7 L552.7,325.5 L553.8,326.7 L554.4,328.1 L554.7,329.7 L556.5,330.6 L558.4,330.7 L561.2,331.2 L562.8,332.3 L565.4,332.6Z" fill="url(#cellg)" stroke="#1a0c07" stroke-width="1.3" stroke-linejoin="round"/>
<path d="M545.9,339.9 L546.7,340.0 L548.5,339.7 L549.4,337.8 L550.0,335.9 L551.4,333.9 L553.0,332.6 L553.1,331.5 L551.7,329.7 L550.9,327.2 L549.7,325.5 L547.7,326.1 L546.4,327.0 L544.0,327.9 L542.5,329.4 L539.8,330.7 L539.0,331.9 L538.8,333.2 L538.9,335.1 L540.9,335.5 L543.0,337.3 L544.2,338.2Z" fill="url(#cellg)" stroke="#1a0c07" stroke-width="1.3" stroke-linejoin="round"/>
<path d="M542.5,344.2 L542.9,343.6 L543.3,342.1 L542.7,341.6 L540.8,339.9 L539.2,338.4 L538.8,337.9 L536.7,337.4 L535.2,338.3 L532.8,339.8 L530.5,340.7 L529.0,342.3 L527.2,344.2 L526.0,345.8 L525.9,346.9 L527.5,348.6 L529.1,349.2 L532.1,349.9 L533.1,349.7 L534.4,348.7 L536.3,347.6 L539.2,346.8 L540.4,345.4Z" fill="url(#cellg)" stroke="#1a0c07" stroke-width="1.3" stroke-linejoin="round"/>
<path d="M559.4,346.8 L561.1,345.4 L562.3,344.4 L564.3,342.5 L565.6,341.4 L566.1,339.7 L566.2,337.3 L566.4,336.7 L565.3,335.8 L563.6,335.4 L561.4,335.4 L558.8,334.4 L556.5,333.6 L555.5,334.8 L555.2,334.5 L553.7,337.0 L552.4,339.3 L550.7,341.7 L550.6,342.5 L551.2,343.2 L551.9,344.6 L554.2,346.1 L555.5,346.4 L557.1,347.7Z" fill="url(#cellg)" stroke="#1a0c07" stroke-width="1.3" stroke-linejoin="round"/>
<path d="M569.7,339.9 L569.8,340.6 L569.5,341.6 L571.8,343.0 L573.7,344.6 L575.6,345.9 L577.0,346.3 L578.0,345.4 L579.8,344.8 L580.1,343.1 L580.3,340.6 L580.7,338.5 L580.5,338.4 L579.7,336.7 L576.7,336.3 L574.0,335.9 L572.5,334.9 L571.6,335.8 L570.0,336.5 L570.3,337.7Z" fill="url(#cellg)" stroke="#1a0c07" stroke-width="1.3" stroke-linejoin="round"/>
<path d="M581.8,347.7 L582.0,348.3 L582.9,349.9 L585.2,350.9 L586.7,351.6 L589.5,352.6 L590.5,351.3 L593.0,351.2 L594.9,351.8 L596.6,350.7 L595.8,349.4 L594.5,347.2 L593.7,345.7 L593.7,343.6 L592.1,342.1 L590.8,340.1 L589.6,338.6 L587.9,337.3 L586.9,337.1 L584.6,338.1 L583.5,338.3 L583.0,340.4 L583.3,342.8 L582.0,345.7Z" fill="url(#cellg)" stroke="#1a0c07" stroke-width="1.3" stroke-linejoin="round"/>
<path d="M532.2,353.3 L531.1,353.3 L528.8,352.2 L526.2,351.3 L524.7,350.5 L524.0,352.2 L522.6,354.6 L522.8,356.5 L521.9,359.0 L522.2,361.6 L521.2,362.9 L523.9,363.9 L525.7,364.7 L527.9,365.0 L529.6,364.9 L530.6,364.5 L531.4,364.8 L532.4,362.5 L533.0,360.6 L533.5,359.3 L534.0,357.7 L533.1,356.1Z" fill="url(#cellg)" stroke="#1a0c07" stroke-width="1.3" stroke-linejoin="round"/>
<path d="M548.6,346.1 L548.3,345.3 L546.3,345.9 L545.2,346.4 L542.8,348.5 L540.9,348.9 L537.8,351.1 L535.7,351.4 L535.7,352.6 L535.8,353.4 L536.7,355.0 L537.3,356.4 L538.2,357.0 L540.4,357.7 L543.2,358.3 L544.7,359.3 L548.1,359.6 L549.6,359.3 L550.7,358.9 L551.3,358.8 L552.0,357.3 L553.2,355.8 L552.7,354.1 L553.2,352.1 L553.5,350.2 L553.3,349.1 L551.5,348.3 L550.7,346.4Z" fill="url(#cellg)" stroke="#1a0c07" stroke-width="1.3" stroke-linejoin="round"/>
<path d="M553.9,358.5 L555.4,361.5 L556.1,362.8 L558.4,362.6 L561.2,363.4 L563.0,363.0 L566.1,363.0 L568.0,363.8 L570.2,363.5 L571.1,362.3 L571.2,360.6 L571.5,358.6 L571.3,356.1 L571.2,354.7 L570.5,354.5 L567.9,353.9 L565.9,352.4 L564.0,351.9 L562.7,350.7 L560.5,349.7 L559.0,349.2 L557.6,349.5 L555.9,351.2 L556.0,352.8 L555.4,354.7 L554.8,357.3Z" fill="#d01f2c" stroke="#1a0c07" stroke-width="1.3" stroke-linejoin="round"/>
<path d="M574.1,355.9 L573.3,357.2 L573.5,358.5 L573.4,360.6 L573.8,361.8 L574.8,363.2 L577.3,362.9 L578.7,363.9 L580.8,363.5 L582.0,363.4 L582.3,363.5 L583.4,360.9 L585.2,359.1 L586.0,357.2 L586.2,355.9 L586.3,354.9 L585.3,353.8 L583.6,353.2 L582.2,352.7 L580.2,352.5 L579.3,352.3 L578.1,353.4 L576.6,354.9Z" fill="url(#cellg)" stroke="#1a0c07" stroke-width="1.3" stroke-linejoin="round"/>
<path d="M591.0,355.3 L589.2,355.8 L589.1,358.1 L587.7,360.3 L586.7,362.3 L585.3,363.9 L584.9,364.9 L585.3,366.8 L586.5,367.6 L587.9,369.3 L589.9,371.1 L590.6,371.8 L593.2,372.6 L594.9,372.0 L597.1,372.2 L598.7,372.0 L598.8,370.4 L599.5,367.6 L599.5,365.2 L599.0,362.9 L598.5,360.3 L598.8,358.5 L597.6,356.3 L598.0,353.8 L594.9,354.5 L592.9,354.8Z" fill="url(#cellg)" stroke="#1a0c07" stroke-width="1.3" stroke-linejoin="round"/>
<path d="M534.3,371.7 L535.1,372.6 L536.7,373.0 L538.7,372.9 L541.3,371.7 L543.7,370.9 L546.4,371.3 L549.1,370.1 L549.5,369.2 L550.9,367.4 L551.8,365.5 L551.4,364.0 L550.9,362.7 L549.3,362.4 L547.4,361.6 L545.1,361.9 L542.4,360.9 L540.2,360.7 L538.9,360.1 L536.8,360.4 L536.2,361.0 L535.2,362.9 L534.0,365.5 L533.0,367.0 L533.2,367.9 L534.2,369.3Z" fill="url(#cellg)" stroke="#1a0c07" stroke-width="1.3" stroke-linejoin="round"/>
<path d="M568.6,368.3 L567.8,365.9 L566.6,365.9 L564.6,365.2 L562.7,365.8 L559.6,364.8 L557.4,365.2 L556.3,365.1 L555.2,365.1 L554.6,365.8 L554.4,367.5 L553.1,369.0 L552.1,370.9 L552.9,371.6 L554.4,373.9 L555.1,375.0 L555.9,375.9 L558.5,376.3 L561.7,376.2 L564.1,376.8 L566.5,376.6 L566.4,376.5 L567.3,374.7 L568.2,372.9 L567.6,370.0Z" fill="url(#cellg)" stroke="#1a0c07" stroke-width="1.3" stroke-linejoin="round"/>
<path d="M574.0,365.7 L572.3,366.0 L571.5,367.4 L571.0,369.5 L570.9,372.7 L570.2,374.2 L570.9,376.8 L570.7,377.8 L571.6,378.9 L572.4,379.1 L573.8,378.9 L575.6,378.0 L578.2,376.7 L579.5,376.4 L582.4,374.6 L584.6,373.8 L585.3,373.6 L585.6,371.9 L585.1,370.4 L583.4,368.9 L581.8,366.9 L579.9,366.8 L578.1,367.2 L575.3,366.4Z" fill="url(#cellg)" stroke="#1a0c07" stroke-width="1.3" stroke-linejoin="round"/>
<path d="M534.4,376.7 L533.0,376.5 L531.9,376.2 L529.3,376.7 L528.2,377.8 L525.1,378.2 L523.5,379.2 L523.9,380.5 L525.5,382.6 L525.8,385.1 L526.6,385.7 L527.7,387.5 L528.3,389.7 L531.3,389.4 L533.0,388.9 L534.9,389.2 L535.9,388.7 L536.3,387.3 L536.6,386.2 L535.5,384.1 L535.8,381.3 L534.9,379.8Z" fill="url(#cellg)" stroke="#1a0c07" stroke-width="1.3" stroke-linejoin="round"/>
<path d="M548.6,386.1 L549.3,386.1 L550.4,385.3 L550.7,383.4 L552.6,380.3 L552.8,378.2 L553.2,377.7 L551.1,375.5 L550.2,374.2 L550.1,373.2 L548.3,373.6 L546.4,374.4 L543.9,374.1 L541.5,375.6 L539.7,375.0 L538.6,375.8 L538.0,376.4 L538.1,377.4 L538.0,379.9 L538.5,381.2 L538.5,383.2 L538.8,385.0 L539.5,386.4 L541.3,387.1 L543.6,386.2 L546.1,386.9Z" fill="url(#cellg)" stroke="#1a0c07" stroke-width="1.3" stroke-linejoin="round"/>
<path d="M569.5,387.8 L570.8,387.3 L571.4,386.9 L570.5,384.6 L570.2,381.9 L570.1,381.7 L569.5,380.0 L568.0,379.8 L565.3,380.3 L563.9,379.2 L562.1,379.1 L559.1,379.3 L558.1,378.9 L557.0,379.8 L555.1,380.6 L554.7,382.6 L554.2,384.7 L553.7,386.0 L553.5,387.1 L554.0,388.6 L555.7,389.1 L556.5,391.1 L558.5,391.6 L559.5,392.0 L559.9,392.3 L561.9,391.1 L563.8,390.3 L565.5,389.0 L568.2,388.8Z" fill="url(#cellg)" stroke="#1a0c07" stroke-width="1.3" stroke-linejoin="round"/>
<path d="M574.2,386.1 L574.5,386.7 L575.8,387.2 L578.7,386.9 L580.5,386.9 L582.6,385.8 L585.6,386.2 L585.8,385.3 L586.3,383.2 L587.7,381.2 L588.2,379.8 L588.7,378.4 L588.6,377.3 L587.8,376.4 L585.4,376.3 L584.2,377.4 L581.5,379.2 L579.7,379.0 L577.0,380.6 L575.1,381.2 L574.0,381.4 L573.2,383.0 L573.4,384.0Z" fill="url(#cellg)" stroke="#1a0c07" stroke-width="1.3" stroke-linejoin="round"/>
<path d="M594.4,375.0 L593.2,376.4 L592.9,376.3 L592.3,378.3 L590.8,381.7 L590.6,383.6 L588.7,385.4 L588.6,386.4 L589.0,387.0 L591.0,388.0 L591.7,389.9 L592.8,387.5 L593.4,386.4 L595.1,384.4 L595.9,382.2 L596.0,381.0 L597.5,379.4 L597.7,377.2 L597.5,375.9 L595.8,375.0Z" fill="url(#cellg)" stroke="#1a0c07" stroke-width="1.3" stroke-linejoin="round"/>
<path d="M541.5,390.5 L540.3,390.9 L539.1,391.8 L540.5,395.3 L540.4,397.6 L541.2,399.3 L541.9,401.4 L544.0,402.6 L546.6,404.0 L549.0,405.5 L550.6,405.3 L553.5,406.1 L554.8,406.1 L556.2,404.6 L555.3,402.3 L556.2,400.1 L557.0,398.5 L556.3,395.4 L556.2,394.8 L554.9,393.4 L553.4,391.6 L552.1,390.1 L550.5,389.0 L548.0,390.1 L545.8,389.2 L543.4,390.1Z" fill="url(#cellg)" stroke="#1a0c07" stroke-width="1.3" stroke-linejoin="round"/>
<path d="M573.9,390.9 L572.4,389.9 L570.8,389.8 L568.5,390.9 L566.1,392.2 L564.8,392.7 L562.0,394.1 L559.5,395.0 L558.6,396.6 L558.3,398.5 L558.8,400.0 L558.3,402.6 L557.5,404.5 L556.9,406.5 L559.4,406.3 L561.3,407.4 L563.5,407.3 L565.2,406.1 L567.3,405.9 L569.0,406.4 L570.5,405.4 L571.8,404.9 L573.8,403.8 L575.3,403.7 L578.1,402.1 L578.7,401.3 L577.9,399.2 L577.5,397.4 L576.3,395.0 L575.6,393.0Z" fill="#d01f2c" stroke="#1a0c07" stroke-width="1.3" stroke-linejoin="round"/>
<path d="M579.0,390.0 L578.3,390.8 L577.8,392.3 L578.9,394.4 L579.3,397.0 L580.5,398.1 L580.7,401.2 L582.2,399.1 L584.9,397.4 L585.6,396.4 L586.9,395.1 L589.0,393.3 L589.8,392.3 L589.1,390.8 L586.7,389.5 L586.3,389.0 L584.2,389.3 L581.5,389.3Z" fill="url(#cellg)" stroke="#1a0c07" stroke-width="1.3" stroke-linejoin="round"/>
<ellipse cx="560.4" cy="365.6" rx="39" ry="41.6" fill="none" stroke="#1e0f0a" stroke-width="1.3"/>
<ellipse cx="669.4" cy="365.6" rx="38.2" ry="41.6" fill="#f3e7da"/>
<path d="M676.6,333.8 L678.5,332.6 L679.1,331.9 L679.0,330.0 L680.1,327.7 L679.6,325.6 L677.4,325.3 L675.6,324.9 L673.7,324.9 L670.8,324.9 L667.8,324.0 L665.8,324.0 L662.8,324.9 L661.0,325.8 L662.1,327.1 L662.8,328.6 L663.1,330.3 L665.0,331.4 L667.0,331.4 L669.9,332.0 L671.5,333.2 L674.1,333.4Z" fill="#d01f2c" stroke="#1a0c07" stroke-width="1.3" stroke-linejoin="round"/>
<path d="M655.2,339.7 L656.0,339.8 L657.8,339.5 L658.9,337.1 L659.9,334.8 L661.5,332.4 L662.1,331.3 L661.3,329.6 L660.0,327.8 L659.1,325.4 L656.9,326.3 L655.0,326.9 L653.7,327.8 L651.6,329.0 L650.2,330.5 L647.5,331.8 L648.8,334.2 L648.8,334.2 L649.9,336.4 L651.9,336.7 L653.9,338.4Z" fill="url(#cellg)" stroke="#1a0c07" stroke-width="1.3" stroke-linejoin="round"/>
<path d="M652.6,345.1 L653.7,343.0 L652.7,341.4 L651.5,339.7 L649.7,338.6 L647.6,336.8 L645.6,336.1 L644.6,337.9 L641.8,338.8 L640.1,339.8 L638.6,342.1 L637.0,343.8 L636.8,345.8 L635.3,347.3 L634.4,348.6 L637.3,348.7 L638.9,350.2 L640.4,350.8 L642.8,350.8 L644.7,349.4 L646.1,348.4 L648.1,347.3 L651.1,346.5Z" fill="#d01f2c" stroke="#1a0c07" stroke-width="1.3" stroke-linejoin="round"/>
<path d="M659.8,341.0 L660.3,342.3 L660.8,343.6 L661.6,345.1 L663.3,345.8 L664.3,347.3 L665.7,347.8 L667.1,346.8 L669.3,346.1 L670.7,344.5 L672.8,343.0 L674.4,342.0 L674.7,339.6 L675.2,337.5 L675.2,337.2 L675.4,335.3 L674.0,335.2 L671.8,335.1 L669.3,335.3 L667.3,334.7 L665.3,333.9 L663.5,334.9 L663.0,337.5 L661.6,338.7Z" fill="url(#cellg)" stroke="#1a0c07" stroke-width="1.3" stroke-linejoin="round"/>
<path d="M682.1,335.6 L680.6,335.5 L679.8,335.8 L678.1,337.6 L677.7,339.7 L677.8,341.5 L678.5,342.5 L680.6,343.7 L682.4,344.4 L685.4,345.8 L686.3,346.1 L686.9,345.4 L687.6,344.7 L688.3,344.8 L689.0,341.4 L689.0,339.3 L688.5,338.4 L688.2,337.0 L686.2,336.9 L683.3,336.2Z" fill="url(#cellg)" stroke="#1a0c07" stroke-width="1.3" stroke-linejoin="round"/>
<path d="M689.8,347.0 L689.7,349.4 L690.9,350.0 L693.1,351.5 L695.5,352.5 L697.2,353.2 L699.8,353.2 L700.9,351.9 L703.4,351.9 L705.2,352.5 L704.3,349.6 L703.6,348.1 L702.1,345.7 L701.1,344.0 L700.7,341.7 L698.9,340.0 L697.2,337.8 L695.9,336.2 L694.2,336.9 L693.5,336.7 L691.3,338.5 L690.8,340.1 L690.1,342.3 L690.5,344.8Z" fill="#d01f2c" stroke="#1a0c07" stroke-width="1.3" stroke-linejoin="round"/>
<path d="M642.0,353.6 L641.1,351.6 L638.8,351.6 L636.5,350.5 L634.0,349.7 L634.3,351.7 L633.7,353.0 L632.4,355.0 L632.7,356.5 L631.8,359.4 L632.1,362.2 L631.1,363.8 L634.3,364.9 L636.6,365.9 L639.3,366.3 L640.4,365.6 L641.5,364.6 L642.6,363.7 L643.5,361.7 L644.0,360.0 L644.0,359.2 L644.3,357.2 L643.3,355.5Z" fill="#d01f2c" stroke="#1a0c07" stroke-width="1.3" stroke-linejoin="round"/>
<path d="M659.1,359.8 L661.0,359.0 L661.0,358.4 L662.4,355.7 L662.5,354.6 L663.1,351.9 L662.5,351.0 L661.8,348.5 L660.9,347.8 L659.6,346.5 L658.4,345.4 L657.2,345.0 L655.8,345.3 L653.7,346.7 L652.2,348.0 L649.4,349.8 L648.5,350.8 L645.7,351.3 L644.8,351.9 L644.5,354.1 L645.2,354.9 L646.7,356.6 L646.8,357.6 L649.3,357.9 L651.8,358.2 L654.6,358.7 L656.7,359.4Z" fill="url(#cellg)" stroke="#1a0c07" stroke-width="1.3" stroke-linejoin="round"/>
<path d="M663.9,358.7 L663.5,360.5 L666.1,362.8 L667.5,363.1 L669.8,362.9 L672.4,363.7 L674.2,363.2 L677.2,363.2 L678.1,363.1 L679.9,362.2 L680.1,360.4 L680.3,358.7 L680.6,356.7 L679.5,354.6 L679.1,353.9 L677.4,353.4 L674.8,352.8 L672.8,351.3 L670.9,350.9 L669.6,349.7 L667.3,349.4 L666.3,349.9 L665.7,350.8 L664.6,353.2 L664.7,354.8 L664.1,356.7Z" fill="#d01f2c" stroke="#1a0c07" stroke-width="1.3" stroke-linejoin="round"/>
<path d="M682.9,355.2 L681.3,356.6 L680.8,358.9 L681.0,360.3 L681.8,362.8 L683.6,363.5 L685.3,364.4 L687.7,364.1 L689.1,365.1 L690.7,364.1 L692.0,363.2 L692.6,361.9 L693.8,359.3 L695.6,357.5 L695.7,356.2 L695.2,354.5 L694.6,353.4 L692.6,352.5 L690.8,351.9 L689.3,351.2 L687.5,352.0 L686.0,352.6 L684.8,353.7Z" fill="#d01f2c" stroke="#1a0c07" stroke-width="1.3" stroke-linejoin="round"/>
<path d="M694.2,364.8 L693.6,365.9 L693.5,366.5 L696.2,368.5 L697.6,370.4 L699.4,372.1 L701.2,372.2 L702.9,372.3 L704.9,373.1 L706.7,372.3 L707.0,370.1 L707.9,368.1 L707.2,365.0 L707.8,362.9 L707.3,360.0 L707.2,358.0 L706.3,355.7 L705.8,354.3 L704.2,354.3 L702.2,354.6 L699.7,355.0 L698.5,355.2 L698.1,357.5 L696.3,359.3 L696.2,360.8 L694.3,362.8Z" fill="url(#cellg)" stroke="#1a0c07" stroke-width="1.3" stroke-linejoin="round"/>
<path d="M643.7,371.6 L644.8,372.7 L645.9,372.8 L648.6,372.5 L650.6,372.4 L653.1,371.2 L655.4,370.5 L657.9,370.9 L659.3,369.1 L659.4,367.2 L660.9,365.3 L661.0,363.8 L659.9,363.1 L659.1,362.2 L656.3,362.0 L654.5,361.3 L652.2,361.5 L649.7,360.6 L647.5,360.4 L647.2,360.3 L645.3,361.4 L644.7,362.9 L643.8,364.9 L642.6,367.4 L642.5,368.0 L643.3,369.6Z" fill="url(#cellg)" stroke="#1a0c07" stroke-width="1.3" stroke-linejoin="round"/>
<path d="M677.3,367.4 L677.0,367.1 L675.5,365.2 L673.4,365.7 L671.5,364.9 L669.7,365.5 L666.6,364.6 L664.5,365.0 L664.7,365.5 L663.7,366.0 L663.2,367.5 L663.0,369.2 L661.6,370.7 L661.3,372.0 L663.4,373.6 L664.9,375.9 L665.3,375.8 L667.4,376.0 L669.9,376.4 L673.0,376.3 L675.3,376.9 L676.2,376.1 L675.8,375.4 L676.3,372.3 L677.1,370.5Z" fill="url(#cellg)" stroke="#1a0c07" stroke-width="1.3" stroke-linejoin="round"/>
<path d="M681.9,365.8 L681.2,366.3 L680.2,367.4 L680.2,369.6 L679.7,371.6 L679.6,374.8 L678.9,376.3 L680.0,377.7 L680.2,378.5 L681.4,379.1 L682.2,378.8 L684.7,377.9 L686.5,377.0 L689.0,375.7 L690.2,375.5 L693.2,373.7 L694.1,373.0 L694.2,372.5 L694.0,370.8 L692.1,368.7 L690.3,367.2 L688.1,366.6 L686.4,366.4 L684.6,366.9Z" fill="url(#cellg)" stroke="#1a0c07" stroke-width="1.3" stroke-linejoin="round"/>
<path d="M643.6,377.5 L642.9,375.7 L641.0,376.4 L639.4,377.0 L636.9,377.5 L635.9,378.6 L632.8,378.9 L634.0,381.1 L634.4,382.4 L636.0,384.5 L636.5,386.8 L637.3,387.3 L638.3,389.2 L639.9,389.4 L642.9,389.2 L644.5,388.7 L645.2,388.8 L645.9,388.1 L646.0,385.9 L645.5,384.0 L644.5,381.9 L644.8,379.2Z" fill="url(#cellg)" stroke="#1a0c07" stroke-width="1.3" stroke-linejoin="round"/>
<path d="M658.0,387.5 L658.9,386.2 L659.9,385.8 L661.0,384.1 L661.1,382.7 L662.9,380.1 L662.8,378.4 L663.2,377.3 L661.1,375.1 L660.1,373.8 L659.8,372.4 L657.6,372.8 L655.7,373.5 L653.3,373.2 L650.8,374.6 L649.0,374.0 L647.5,375.1 L646.6,376.0 L646.6,377.5 L646.6,380.0 L647.1,381.3 L647.1,383.4 L647.4,385.2 L648.3,386.9 L650.8,388.0 L653.0,387.1 L655.4,387.8Z" fill="#d01f2c" stroke="#1a0c07" stroke-width="1.3" stroke-linejoin="round"/>
<path d="M679.8,381.9 L679.5,380.4 L678.6,380.2 L676.8,379.3 L674.5,378.5 L672.5,379.0 L670.8,378.4 L668.4,378.7 L665.4,379.2 L665.0,378.8 L664.4,379.8 L662.6,381.9 L662.8,383.3 L662.0,385.8 L660.9,387.6 L662.1,388.9 L663.9,390.3 L665.7,390.8 L666.9,392.3 L668.0,393.4 L669.7,392.6 L671.2,392.5 L673.9,390.9 L676.0,390.0 L677.5,389.5 L679.7,388.2 L680.5,386.2 L680.0,383.6Z" fill="#d01f2c" stroke="#1a0c07" stroke-width="1.3" stroke-linejoin="round"/>
<path d="M683.9,381.4 L682.9,382.6 L682.1,383.0 L682.4,384.4 L683.1,385.8 L683.7,387.4 L684.9,386.9 L687.4,387.4 L688.9,387.0 L690.6,386.4 L693.2,385.9 L694.3,385.3 L695.4,382.9 L696.4,380.9 L697.5,379.2 L696.7,378.2 L696.6,376.8 L694.5,377.3 L692.8,377.1 L690.1,378.7 L688.1,379.3 L685.5,379.8Z" fill="url(#cellg)" stroke="#1a0c07" stroke-width="1.3" stroke-linejoin="round"/>
<path d="M702.4,374.7 L701.2,374.8 L700.5,375.7 L699.4,378.6 L699.0,379.6 L698.6,381.2 L697.2,384.2 L697.2,385.6 L696.2,386.5 L696.7,387.7 L698.0,388.6 L700.1,389.6 L700.7,388.6 L702.0,386.1 L702.6,384.8 L704.1,382.7 L704.7,380.3 L705.0,379.0 L706.4,377.1 L706.6,374.5 L704.1,375.1Z" fill="#d01f2c" stroke="#1a0c07" stroke-width="1.3" stroke-linejoin="round"/>
<path d="M650.2,389.6 L649.6,391.3 L649.3,392.3 L649.1,394.2 L650.6,397.8 L650.4,400.0 L651.2,401.8 L653.5,402.4 L655.6,403.7 L658.0,405.0 L660.4,406.0 L661.9,405.8 L664.8,406.6 L664.1,403.9 L665.5,402.4 L664.7,400.1 L665.5,397.8 L666.4,396.3 L664.9,393.9 L663.7,393.5 L662.5,392.1 L660.9,390.3 L659.7,388.8 L657.4,389.2 L655.0,390.3 L652.9,389.4Z" fill="url(#cellg)" stroke="#1a0c07" stroke-width="1.3" stroke-linejoin="round"/>
<path d="M669.4,394.2 L668.2,394.7 L667.4,396.1 L667.5,398.2 L667.1,400.5 L666.6,403.0 L667.2,404.6 L666.3,407.2 L668.0,407.1 L669.8,407.1 L671.7,406.9 L674.2,406.0 L675.9,406.3 L677.3,405.8 L678.7,405.1 L681.1,404.3 L682.9,404.8 L685.1,403.8 L686.6,402.1 L688.6,401.2 L687.5,400.0 L686.2,397.6 L684.8,395.6 L683.9,393.1 L682.8,391.9 L682.2,389.6 L679.0,389.6 L677.1,390.4 L675.7,391.5 L673.5,392.0 L671.7,392.9Z" fill="#d01f2c" stroke="#1a0c07" stroke-width="1.3" stroke-linejoin="round"/>
<path d="M687.7,390.0 L687.0,390.6 L686.4,392.3 L687.5,394.4 L688.0,397.0 L689.1,398.0 L689.4,401.1 L690.8,399.0 L693.5,397.4 L694.0,396.4 L695.4,395.1 L697.4,393.3 L698.2,392.3 L697.5,390.8 L695.0,389.5 L694.7,389.0 L692.7,389.3 L690.0,389.3Z" fill="url(#cellg)" stroke="#1a0c07" stroke-width="1.3" stroke-linejoin="round"/>
<ellipse cx="669.4" cy="365.6" rx="38.2" ry="41.6" fill="none" stroke="#1e0f0a" stroke-width="1.3"/>
</g>
</svg>
</body></html>
